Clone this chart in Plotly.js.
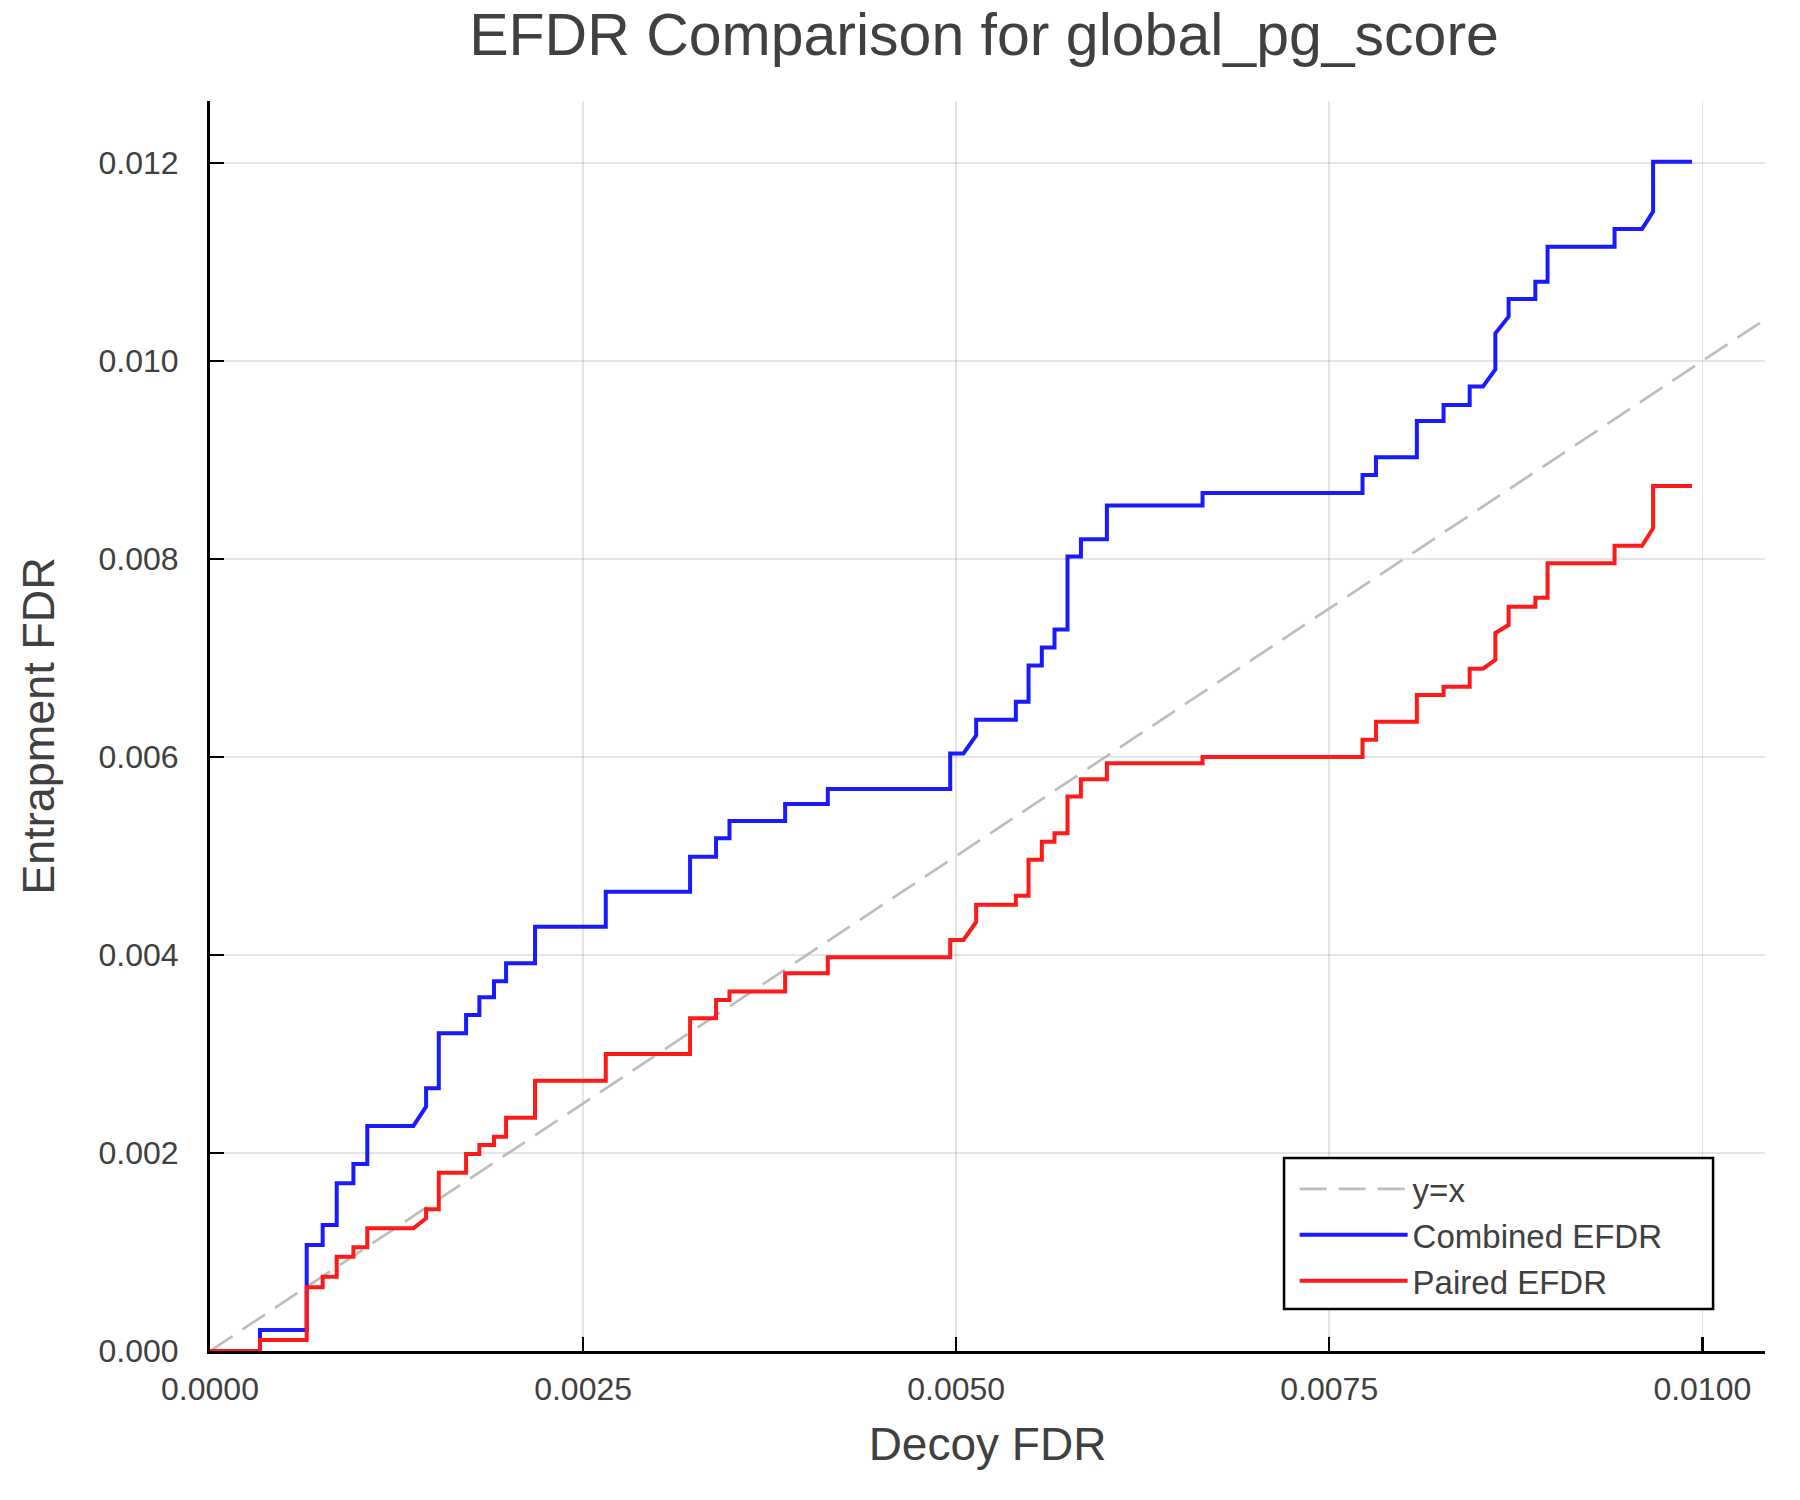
<!DOCTYPE html>
<html>
<head>
<meta charset="utf-8">
<script src="https://cdn.plot.ly/plotly-3.0.1.min.js"></script>
<style>
  html, body { margin: 0; padding: 0; background: #fff; }
  #chart { width: 1800px; height: 1500px; }
</style>
</head>
<body>
<div id="chart"></div>
<script>
// step vertices, shared by both EFDR curves
const decoyFdr = [
  0, 0.000335, 0.000335, 0.000648, 0.000648, 0.000755, 0.000755, 0.000849,
  0.000849, 0.000961, 0.000961, 0.001054, 0.001054, 0.001363, 0.001448, 0.001448,
  0.001533, 0.001533, 0.001716, 0.001716, 0.001805, 0.001805, 0.001903, 0.001903,
  0.001984, 0.001984, 0.002178, 0.002178, 0.002652, 0.002652, 0.003217, 0.003217,
  0.003391, 0.003391, 0.003481, 0.003481, 0.003854, 0.003854, 0.004140, 0.004140,
  0.004960, 0.004960, 0.005049, 0.005134, 0.005134, 0.005400, 0.005400, 0.005485,
  0.005485, 0.005574, 0.005574, 0.005659, 0.005659, 0.005746, 0.005746, 0.005836,
  0.005836, 0.006010, 0.006010, 0.006651, 0.006651, 0.007723, 0.007723, 0.007813,
  0.007813, 0.008087, 0.008087, 0.008266, 0.008266, 0.008441, 0.008441, 0.008530,
  0.008613, 0.008613, 0.008702, 0.008702, 0.008881, 0.008881, 0.008963, 0.008963,
  0.009412, 0.009412, 0.009596, 0.009670, 0.009670, 0.009931
];

const combinedEfdr = [
  0, 0, 0.000212, 0.000212, 0.001071, 0.001071, 0.001273, 0.001273,
  0.001694, 0.001694, 0.001889, 0.001889, 0.002273, 0.002273, 0.002468, 0.002653,
  0.002653, 0.003209, 0.003209, 0.003394, 0.003394, 0.003572, 0.003572, 0.003734,
  0.003734, 0.003916, 0.003916, 0.004286, 0.004286, 0.004640, 0.004640, 0.004993,
  0.004993, 0.005178, 0.005178, 0.005354, 0.005354, 0.005525, 0.005525, 0.005677,
  0.005677, 0.006036, 0.006036, 0.006218, 0.006377, 0.006377, 0.006557, 0.006557,
  0.006925, 0.006925, 0.007106, 0.007106, 0.007287, 0.007287, 0.008026, 0.008026,
  0.008199, 0.008199, 0.008541, 0.008541, 0.008667, 0.008667, 0.008848, 0.008848,
  0.009027, 0.009027, 0.009394, 0.009394, 0.009556, 0.009556, 0.009741, 0.009741,
  0.009916, 0.010279, 0.010448, 0.010626, 0.010626, 0.010801, 0.010801, 0.011155,
  0.011155, 0.011333, 0.011333, 0.011508, 0.012013, 0.012013
];

const pairedEfdr = [
  0, 0, 0.000111, 0.000111, 0.000643, 0.000643, 0.000751, 0.000751,
  0.000953, 0.000953, 0.001047, 0.001047, 0.001239, 0.001239, 0.001340, 0.001431,
  0.001431, 0.001801, 0.001801, 0.001990, 0.001990, 0.002081, 0.002081, 0.002165,
  0.002165, 0.002357, 0.002357, 0.002731, 0.002731, 0.003000, 0.003000, 0.003360,
  0.003360, 0.003545, 0.003545, 0.003630, 0.003630, 0.003815, 0.003815, 0.003976,
  0.003976, 0.004152, 0.004152, 0.004333, 0.004508, 0.004508, 0.004599, 0.004599,
  0.004963, 0.004963, 0.005143, 0.005143, 0.005230, 0.005230, 0.005602, 0.005602,
  0.005775, 0.005775, 0.005938, 0.005938, 0.005999, 0.005999, 0.006175, 0.006175,
  0.006357, 0.006357, 0.006626, 0.006626, 0.006710, 0.006710, 0.006892, 0.006892,
  0.006980, 0.007253, 0.007333, 0.007518, 0.007518, 0.007609, 0.007609, 0.007956,
  0.007956, 0.008134, 0.008134, 0.008310, 0.008737, 0.008737
];

const identityLine = [0, 0.01042];

const xTicks = [0, 0.0025, 0.005, 0.0075, 0.01];
const xTickText = ["0.0000", "0.0025", "0.0050", "0.0075", "0.0100"];
const yTicks = [0, 0.002, 0.004, 0.006, 0.008, 0.010, 0.012];
const yTickText = ["0.000", "0.002", "0.004", "0.006", "0.008", "0.010", "0.012"];

const FONT = '"Liberation Sans", Arial, Helvetica, sans-serif';
const TEXT = '#404040';

const traces = [
  {
    x: identityLine, y: identityLine,
    type: 'scatter', mode: 'lines', name: 'y=x',
    line: { color: '#bdbdbd', width: 2.7, dash: '27px,12px' }
  },
  {
    x: decoyFdr, y: combinedEfdr,
    type: 'scatter', mode: 'lines', name: 'Combined EFDR',
    line: { color: '#1a1aff', width: 4 }
  },
  {
    x: decoyFdr, y: pairedEfdr,
    type: 'scatter', mode: 'lines', name: 'Paired EFDR',
    line: { color: '#ff1a1a', width: 4 }
  }
];

const axisCommon = {
  showline: true, linecolor: '#000', linewidth: 3,
  ticks: 'inside', ticklen: 14, tickwidth: 2.5, tickcolor: '#000',
  showgrid: true, gridcolor: 'rgba(0,0,0,0.1)', gridwidth: 1.5,
  zeroline: false, mirror: false,
  tickfont: { family: FONT, size: 32, color: TEXT }
};

const layout = {
  width: 1800, height: 1500,
  margin: { l: 210, r: 35, t: 101, b: 149 },
  paper_bgcolor: '#fff', plot_bgcolor: '#fff',
  font: { family: FONT, color: TEXT },
  title: {
    text: 'EFDR Comparison for global_pg_score',
    font: { family: FONT, size: 59, color: TEXT },
    x: 984 / 1800, xanchor: 'center',
    yref: 'container', y: 1 - 34 / 1500, yanchor: 'middle'
  },
  xaxis: Object.assign({}, axisCommon, {
    range: [0, 0.01042],
    tickvals: xTicks, ticktext: xTickText,
    ticklabelstandoff: 8,
    title: { text: 'Decoy FDR', font: { family: FONT, size: 46, color: TEXT }, standoff: 22 }
  }),
  yaxis: Object.assign({}, axisCommon, {
    range: [0, 0.012626],
    tickvals: yTicks, ticktext: yTickText,
    ticklabelstandoff: 22,
    title: { text: 'Entrapment FDR', font: { family: FONT, size: 45, color: TEXT }, standoff: 30 }
  }),
  // legend frame drawn as a box in paper space; entries come from the native legend
  shapes: [{
    type: 'rect', xref: 'paper', yref: 'paper', layer: 'above',
    x0: 0.6907, x1: 0.9666, y0: 0.0336, y1: 0.1544,
    fillcolor: '#fff', line: { color: '#000', width: 2.5 }
  }],
  showlegend: true,
  legend: {
    x: 0.6975, xanchor: 'left', y: 0.152, yanchor: 'top',
    bgcolor: 'rgba(0,0,0,0)', borderwidth: 0,
    font: { family: FONT, size: 33, color: TEXT },
    itemwidth: 108
  }
};

Plotly.newPlot('chart', traces, layout, { displayModeBar: false, staticPlot: true });
</script>
</body>
</html>
